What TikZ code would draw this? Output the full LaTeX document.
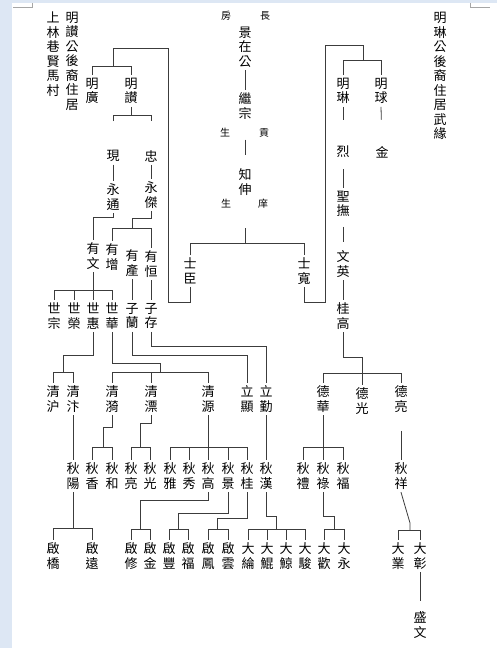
\documentclass[tikz,border=0pt]{standalone}
\usepackage{fontspec}
\newfontfamily\cjk{Noto Sans CJK TC}
\usetikzlibrary{calc}
\definecolor{pageblue}{RGB}{221,231,244}
\definecolor{linegray}{RGB}{60,60,60}

\tikzset{
  person/.style={font=\cjk\fontsize{13}{14.5}\selectfont, align=center, inner sep=0pt, outer sep=3pt},
  remark/.style={font=\cjk\fontsize{10}{11}\selectfont, inner sep=0pt},
  branch/.style={draw=linegray, line width=0.8pt},
}

\begin{document}
\begin{tikzpicture}[x=1pt,y=-1pt]

%---------------------------------------
% Page
%---------------------------------------
\useasboundingbox (0,0) rectangle (497,648);
\fill[white] (0,0) rectangle (497,648);
\fill[pageblue] (0,0) rectangle (12,648);
\fill[pageblue] (0,0) rectangle (497,3);
\draw[gray!70, line width=0.6pt] (13,7) -- (32,7) -- (32,3);
\draw[gray!70, line width=0.6pt] (470,3) -- (470,7) -- (490,7);

% Rows
\def\Yqing{399}
\def\Yshi{316}
\def\Yqiu{476}
\def\Yqi{556}

%---------------------------------------
% Side notes
%---------------------------------------
\node[person] (shanglin) at (53,54) {上\\林\\巷\\賢\\馬\\村};
\node[person] (zanhou) at (72,61) {明\\讃\\公\\後\\裔\\住\\居};
\node[person] (linhou) at (440,76) {明\\琳\\公\\後\\裔\\住\\居\\武\\緣};

%---------------------------------------
% Main line
%---------------------------------------
\node[remark] (fang) at (226,16) {房};
\node[remark] (zhang) at (265,16) {長};
\node[person] (jingzai) at (245,47) {景\\在\\公};
\node[person] (jizong) at (245,106) {繼\\宗};
\node[remark] (sheng1) at (225,133) {生};
\node[remark] (gong) at (264,133) {貢};
\node[person] (zhishen) at (245,182) {知\\伸};
\node[remark] (sheng2) at (226,204) {生};
\node[remark] (xiang) at (263,204) {庠};
\node[person] (shichen) at (190,271) {士\\臣};
\node[person] (shikuan) at (304,271) {士\\寬};

\draw[branch] (jingzai.south) -- (jizong.north);
\draw[branch] ($(jizong.south)!0.4!(zhishen.north)$) -- ($(jizong.south)!0.75!(zhishen.north)$);
\draw[branch] (zhishen |- 0,228) -- (zhishen |- 0,243);
\draw[branch] (shichen.north) -- (shichen |- 0,243) -- (shikuan |- 0,243) -- (shikuan.north);

%---------------------------------------
% Left branch (shichen)
%---------------------------------------
\node[person] (mingguang) at (92,91) {明\\廣};
\node[person] (mingzan) at (131,91) {明\\讃};
\node[person] (xian) at (113,156) {現};
\node[person] (zhong) at (151,156) {忠};
\node[person] (yongtong) at (113,197) {永\\通};
\node[person] (yongjie) at (151,195) {永\\傑};
\node[person] (youwen) at (93,256) {有\\文};
\node[person] (youzeng) at (112,257) {有\\增};
\node[person] (youchan) at (132,263) {有\\產};
\node[person] (youheng) at (151,264) {有\\恒};

\draw[branch] (shichen.south) -- (shichen |- 0,302) -- (168,302) -- (168,48) -- (113,48) -- (113,66);
\draw[branch] (mingguang.north) -- (mingguang |- 0,66) -- (mingzan |- 0,66) -- (mingzan.north);
\draw[branch] (mingzan.south) -- (mingzan |- 0,115);
\draw[branch] (xian |- 0,121) -- (xian |- 0,115) -- (zhong |- 0,115) -- (zhong |- 0,121);
\draw[branch] (xian.south) -- (yongtong.north);
\draw[branch] (zhong.south) -- (yongjie.north);
\draw[branch] (yongtong.south) -- (yongtong |- 0,217) -| (youwen.north);
\draw[branch] (yongjie.south) -- (yongjie |- 0,218) -| (youchan |- 0,228);
\draw[branch] (youzeng.north) -- (youzeng |- 0,228) -- (youheng |- 0,228) -- (youheng.north);

\node[person] (shizong) at (54,\Yshi) {世\\宗};
\node[person] (shirong) at (74,\Yshi) {世\\榮};
\node[person] (shihui) at (93,\Yshi) {世\\惠};
\node[person] (shihua) at (112,\Yshi) {世\\華};
\node[person] (zilan) at (132,\Yshi) {子\\蘭};
\node[person] (zicun) at (151,\Yshi) {子\\存};

\draw[branch] (youwen.south) -- (youwen |- 0,290);
\draw[branch] (shizong.north) -- (shizong |- 0,290) -- (shihua |- 0,290) -- (shihua.north);
\draw[branch] (shirong |- 0,290) -- (shirong.north);
\draw[branch] (shihui |- 0,290) -- (shihui.north);
\draw[branch] (youchan.south) -- (zilan.north);
\draw[branch] (youheng.south) -- (zicun.north);

\node[person] (qinghu) at (53,\Yqing) {清\\沪};
\node[person] (qingbian) at (73,\Yqing) {清\\汴};
\node[person] (qingyi) at (112,\Yqing) {清\\漪};
\node[person] (qingpiao) at (151,\Yqing) {清\\漂};
\node[person] (qingyuan) at (208,\Yqing) {清\\源};
\node[person] (lixian) at (247,\Yqing) {立\\顯};
\node[person] (liqin) at (266,\Yqing) {立\\勤};

\draw[branch] (shihui.south) -- (shihui |- 0,355) -| (63,372);
\draw[branch] (qinghu.north) -- (qinghu |- 0,372) -- (qingbian |- 0,372) -- (qingbian.north);
\draw[branch] (shihua.south) -- (shihua |- 0,363) -| (160,372);
\draw[branch] (qingyi.north) -- (qingyi |- 0,372) -- (qingyuan |- 0,372) -- (qingyuan.north);
\draw[branch] (qingpiao |- 0,372) -- (qingpiao.north);
\draw[branch] (zilan.south) -- (zilan |- 0,355) -| (lixian.north);
\draw[branch] (zicun.south) -- (zicun |- 0,346) -| (liqin.north);

%---------------------------------------
% Right branch (shikuan)
%---------------------------------------
\node[person] (minglin) at (343,91) {明\\琳};
\node[person] (mingqiu) at (381,91) {明\\球};
\node[person] (lie) at (343,152) {烈};
\node[person] (jin) at (382,152) {金};
\node[person] (shengfu) at (343,204) {聖\\撫};
\node[person] (wenying) at (343,264) {文\\英};
\node[person] (guigao) at (343,316) {桂\\高};
\node[person] (dehua) at (323,\Yqing) {德\\華};
\node[person] (deguang) at (362,401) {德\\光};
\node[person] (deliang) at (401,\Yqing) {德\\亮};

\draw[branch] (shikuan.south) -- (shikuan |- 0,302) -- (325,302) -- (325,45) -- (363,45) -- (363,60);
\draw[branch] (minglin.north) -- (minglin |- 0,60) -- (mingqiu |- 0,60) -- (mingqiu.north);
\draw[branch] (minglin.south) -- ($(minglin.south)!0.35!(lie.north)$);
\draw[branch] (mingqiu.south) -- ($(mingqiu.south)!0.35!(jin.north)$);
\draw[branch] ($(lie.south)!0.3!(shengfu.north)$) -- (shengfu.north);
\draw[branch] ($(shengfu.south)!0.25!(wenying.north)$) -- ($(shengfu.south)!0.8!(wenying.north)$);
\draw[branch] (wenying.south) -- (guigao.north);
\draw[branch] (guigao.south) -- (guigao |- 0,357) -| (deguang.north);
\draw[branch] (dehua.north) -- (dehua |- 0,373) -- (deliang |- 0,373) -- (deliang.north);

%---------------------------------------
% Qiu generation
%---------------------------------------
\node[person] (qiuyang) at (73,\Yqiu) {秋\\陽};
\node[person] (qiuxiang) at (92,\Yqiu) {秋\\香};
\node[person] (qiuhe) at (112,\Yqiu) {秋\\和};
\node[person] (qiuliang) at (131,\Yqiu) {秋\\亮};
\node[person] (qiuguang) at (150,\Yqiu) {秋\\光};
\node[person] (qiuya) at (170,\Yqiu) {秋\\雅};
\node[person] (qiuxiu) at (189,\Yqiu) {秋\\秀};
\node[person] (qiugao) at (208,\Yqiu) {秋\\高};
\node[person] (qiujing) at (228,\Yqiu) {秋\\景};
\node[person] (qiugui) at (247,\Yqiu) {秋\\桂};
\node[person] (qiuhan) at (266,\Yqiu) {秋\\漢};
\node[person] (qiuli) at (303,\Yqiu) {秋\\禮};
\node[person] (qiulu) at (323,\Yqiu) {秋\\祿};
\node[person] (qiufu) at (343,\Yqiu) {秋\\福};
\node[person] (qiuxiang2) at (401,\Yqiu) {秋\\祥};

\draw[branch] (qingbian.south) -- (qiuyang.north);
\draw[branch] (qingyi.south) -- (qingyi |- 0,427) -| (103,447);
\draw[branch] (qiuxiang.north) -- (qiuxiang |- 0,447) -- (qiuhe |- 0,447) -- (qiuhe.north);
\draw[branch] (qingpiao.south) -- (qingpiao |- 0,423) -| (140,447);
\draw[branch] (qiuliang.north) -- (qiuliang |- 0,447) -- (qiuguang |- 0,447) -- (qiuguang.north);
\draw[branch] (qingyuan.south) -- (qiugao.north);
\draw[branch] (qiuya.north) -- (qiuya |- 0,447) -- (qiugui |- 0,447) -- (qiugui.north);
\draw[branch] (qiuxiu |- 0,447) -- (qiuxiu.north);
\draw[branch] (qiujing |- 0,447) -- (qiujing.north);
\draw[branch] (liqin.south) -- (qiuhan.north);
\draw[branch] (dehua.south) -- (qiulu.north);
\draw[branch] (qiuli.north) -- (qiuli |- 0,447) -- (qiufu |- 0,447) -- (qiufu.north);
\draw[branch] ($(deliang.south)!0.35!(qiuxiang2.north)$) -- (qiuxiang2.north);

%---------------------------------------
% Qi / Da generation
%---------------------------------------
\node[person] (qiqiao) at (53,\Yqi) {啟\\橋};
\node[person] (qiyuan) at (92,\Yqi) {啟\\遠};
\node[person] (qixiu) at (131,\Yqi) {啟\\修};
\node[person] (qijin) at (150,\Yqi) {啟\\金};
\node[person] (qifeng) at (169,\Yqi) {啟\\豐};
\node[person] (qifu) at (188,\Yqi) {啟\\福};
\node[person] (qifeng2) at (208,\Yqi) {啟\\鳳};
\node[person] (qiyun) at (228,\Yqi) {啟\\雲};
\node[person] (dalun) at (248,\Yqi) {大\\綸};
\node[person] (dakun) at (267,\Yqi) {大\\鯤};
\node[person] (dajing) at (286,\Yqi) {大\\鯨};
\node[person] (dajun) at (305,\Yqi) {大\\駿};
\node[person] (dahuan) at (324,\Yqi) {大\\歡};
\node[person] (dayong) at (344,\Yqi) {大\\永};
\node[person] (daye) at (398,\Yqi) {大\\業};
\node[person] (dazhang) at (420,\Yqi) {大\\彰};
\node[person] (shengwen) at (420,625) {盛\\文};

\draw[branch] (qiuyang.south) -- (qiuyang |- 0,528);
\draw[branch] (qiqiao.north) -- (qiqiao |- 0,528) -- (qiyuan |- 0,528) -- (qiyuan.north);
\draw[branch] (qiugao.south) -- (qiugao |- 0,500) -| (140,529);
\draw[branch] (qixiu.north) -- (qixiu |- 0,529) -- (qijin |- 0,529) -- (qijin.north);
\draw[branch] (qiujing.south) -- (qiujing |- 0,513) -| (178,529);
\draw[branch] (qifeng.north) -- (qifeng |- 0,529) -- (qifu |- 0,529) -- (qifu.north);
\draw[branch] (qiugui.south) -- (qiugui |- 0,518) -| (217,529);
\draw[branch] (qifeng2.north) -- (qifeng2 |- 0,529) -- (qiyun |- 0,529) -- (qiyun.north);
\draw[branch] (qiuhan.south) -- (qiuhan |- 0,516) -| (276,529);
\draw[branch] (dalun.north) -- (dalun |- 0,529) -- (dajun |- 0,529) -- (dajun.north);
\draw[branch] (dakun |- 0,529) -- (dakun.north);
\draw[branch] (dajing |- 0,529) -- (dajing.north);
\draw[branch] (qiulu.south) -- (qiulu |- 0,516) -| (334,529);
\draw[branch] (dahuan.north) -- (dahuan |- 0,529) -- (dayong |- 0,529) -- (dayong.north);
\draw[branch] (qiuxiang2.south) -- (410,523) -- (410,530);
\draw[branch] (daye.north) -- (daye |- 0,530) -- (dazhang |- 0,530) -- (dazhang.north);
\draw[branch] (dazhang.south) -- ($(dazhang.south)!0.8!(shengwen.north)$);

\end{tikzpicture}
\end{document}
